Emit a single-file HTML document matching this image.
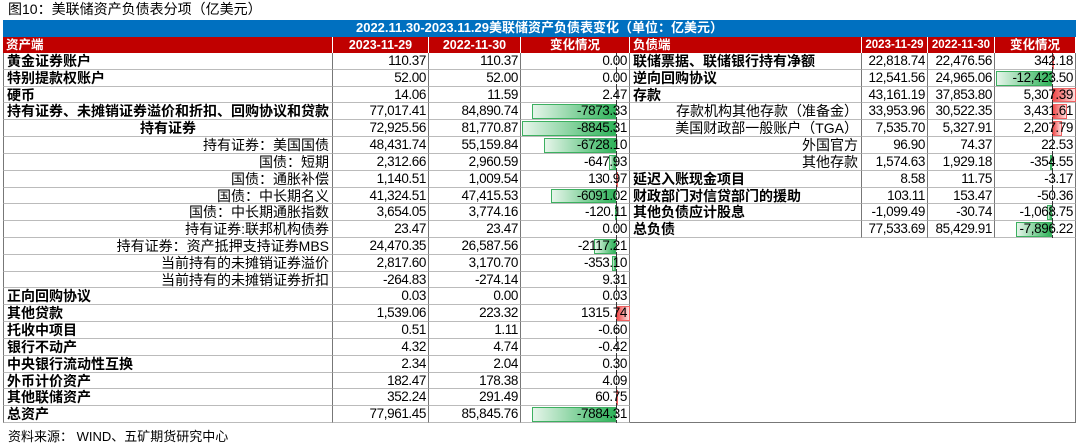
<!DOCTYPE html>
<html><head><meta charset="utf-8"><style>
body{margin:0;background:#fff;width:1080px;height:447px;overflow:hidden;position:relative;font-family:"Liberation Sans","Noto Sans CJK SC",sans-serif}
.c{position:absolute;box-sizing:border-box;white-space:nowrap;overflow:hidden;font-size:14px;line-height:16px;color:#000}
.n{font-family:"Liberation Sans Narrow","Liberation Sans","Noto Sans CJK SC",sans-serif;text-align:right;padding-right:2px;letter-spacing:-0.4px;font-size:13.5px}
.b{font-weight:bold}
.bar{position:absolute;box-sizing:border-box}
</style></head><body>
<div class="c" style="left:8px;top:1px;font-size:14px">图10：美联储资产负债表分项（亿美元）</div>
<div class="c b" style="left:3px;top:20px;width:1073px;height:17px;background:#0070c0;color:#fff;text-align:center;font-size:13px">2022.11.30-2023.11.29美联储资产负债表变化（单位：亿美元）</div>
<div id="t"></div>
<div class="c" style="left:8px;top:429px;font-size:13px">资料来源： WIND、五矿期货研究中心</div>
<script>
const leftLabels=["黄金证券账户","特别提款权账户","硬币","持有证券、未摊销证券溢价和折扣、回购协议和贷款","持有证券","持有证券：美国国债","国债：短期","国债：通胀补偿","国债：中长期名义","国债：中长期通胀指数","持有证券:联邦机构债券","持有证券：资产抵押支持证券MBS","当前持有的未摊销证券溢价","当前持有的未摊销证券折扣","正向回购协议","其他贷款","托收中项目","银行不动产","中央银行流动性互换","外币计价资产","其他联储资产","总资产"];
const leftAlign=["lb","lb","lb","lb","cb","r","r","r","r","r","r","r","r","r","lb","lb","lb","lb","lb","lb","lb","lb"];
const left2023=["110.37","52.00","14.06","77,017.41","72,925.56","48,431.74","2,312.66","1,140.51","41,324.51","3,654.05","23.47","24,470.35","2,817.60","-264.83","0.03","1,539.06","0.51","4.32","2.34","182.47","352.24","77,961.45"];
const left2022=["110.37","52.00","11.59","84,890.74","81,770.87","55,159.84","2,960.59","1,009.54","47,415.53","3,774.16","23.47","26,587.56","3,170.70","-274.14","0.00","223.32","1.11","4.74","2.04","178.38","291.49","85,845.76"];
const leftChange=[0.00,0.00,2.47,-7873.33,-8845.31,-6728.10,-647.93,130.97,-6091.02,-120.11,0.00,-2117.21,-353.10,9.31,0.03,1315.74,-0.60,-0.42,0.30,4.09,60.75,-7884.31];
const rightLabels=["联储票据、联储银行持有净额","逆向回购协议","存款","存款机构其他存款（准备金）","美国财政部一般账户（TGA）","外国官方","其他存款","延迟入账现金项目","财政部门对信贷部门的援助","其他负债应计股息","总负债"];
const rightAlign=["lb","lb","lb","r","r","r","r","lb","lb","lb","lb"];
const right2023=["22,818.74","12,541.56","43,161.19","33,953.96","7,535.70","96.90","1,574.63","8.58","103.11","-1,099.49","77,533.69"];
const right2022=["22,476.56","24,965.06","37,853.80","30,522.35","5,327.91","74.37","1,929.18","11.75","153.47","-30.74","85,429.91"];
const rightChange=[342.18,-12423.50,5307.39,3431.61,2207.79,22.53,-354.55,-3.17,-50.36,-1068.75,-7896.22];
const T=document.getElementById('t');
const top0=37,hh=16,rh=16.82;
function cell(x,y,w,h,txt,cls,style){const d=document.createElement('div');d.className='c '+(cls||'');d.style.cssText=`left:${x}px;top:${y}px;width:${w}px;height:${h}px;`+(style||'');d.textContent=txt;T.appendChild(d);return d;}
function fmtL(v){return v.toFixed(2);}
function fmtR(v){const s=Math.abs(v).toFixed(2).split('.');return (v<0?'-':'')+s[0].replace(/\B(?=(\d{3})+(?!\d))/g,',')+'.'+s[1];}
const hs='background:#c00000;color:#fff;font-weight:bold;font-size:12.5px;text-align:center;border-right:1px solid #fff;';
let h;
h=cell(3,top0,330,hh,'资产端','',hs+'text-align:left;padding-left:3px');
h=cell(333,top0,96,hh,'2023-11-29','',hs);
h=cell(429,top0,92,hh,'2022-11-30','',hs);
h=cell(521,top0,109,hh,'变化情况','',hs);
h=cell(630,top0,232,hh,'负债端','',hs+'text-align:left;padding-left:3px');
h=cell(862,top0,66,hh,'2023-11-29','',hs+'font-size:11.5px');
h=cell(928,top0,67,hh,'2022-11-30','',hs+'font-size:11.5px');
h=cell(995,top0,81,hh,'变化情况','',hs);
const bd='border-right:1px solid #777;border-bottom:1px solid #bbb;';
function labelStyle(a){if(a==='lb')return 'font-weight:bold;padding-left:3px;';if(a==='cb')return 'font-weight:bold;text-align:center;';return 'text-align:right;padding-right:3px;';}
function bar(x0,w,zero,scale,v,y){const len=Math.min(Math.abs(v)*scale,v<0?zero-x0:x0+w-zero);if(len<0.5)return;const b=document.createElement('div');b.className='bar';


if(v<0){b.style.cssText=`left:${zero-len}px;top:${y+1}px;width:${len}px;height:${rh-2}px;background:linear-gradient(to right,#e6f5ea,#2fb35a);border:1px solid #3cb060;`;}
else{b.style.cssText=`left:${zero}px;top:${y+1}px;width:${len}px;height:${rh-2}px;background:linear-gradient(to right,#f04848,#fde0e0);border:1px solid #f06060;`;}
T.appendChild(b);}
function zl(x,y){const z=document.createElement('div');z.className='bar';z.style.cssText=`left:${x}px;top:${y}px;width:0;height:${rh}px;border-left:1px dashed #333;`;T.appendChild(z);}
const y0=top0+hh;
leftLabels.forEach((l,i)=>{const y=y0+i*rh;
let c=cell(3,y,330,rh,l,'',labelStyle(leftAlign[i])+bd+'border-left:1px solid #777;');
c=cell(333,y,96,rh,left2023[i],'n',bd);
c=cell(429,y,92,rh,left2022[i],'n',bd);
c=cell(521,y,109,rh,'','',bd);
bar(521,109,616,94/8845.31,leftChange[i],y);zl(616,y);
c=cell(521,y,109,rh,fmtL(leftChange[i]),'n','background:transparent;padding-right:3px');
});
for(let i=0;i<leftLabels.length;i++){const y=y0+i*rh;
if(i<rightLabels.length){
let c=cell(630,y,232,rh,rightLabels[i],'',labelStyle(rightAlign[i])+bd);
c=cell(862,y,66,rh,right2023[i],'n',bd);
c=cell(928,y,67,rh,right2022[i],'n',bd);
c=cell(995,y,81,rh,'','',bd);
bar(995,81,1052,56/12423.5,rightChange[i],y);zl(1052,y);
c=cell(995,y,81,rh,fmtR(rightChange[i]),'n','background:transparent;padding-right:3px');
} else {
let c=cell(630,y,446,rh,'','', 'border-right:1px solid #777;'+(i===leftLabels.length-1?'border-bottom:1px solid #777;':''));
}}
</script>
</body></html>
